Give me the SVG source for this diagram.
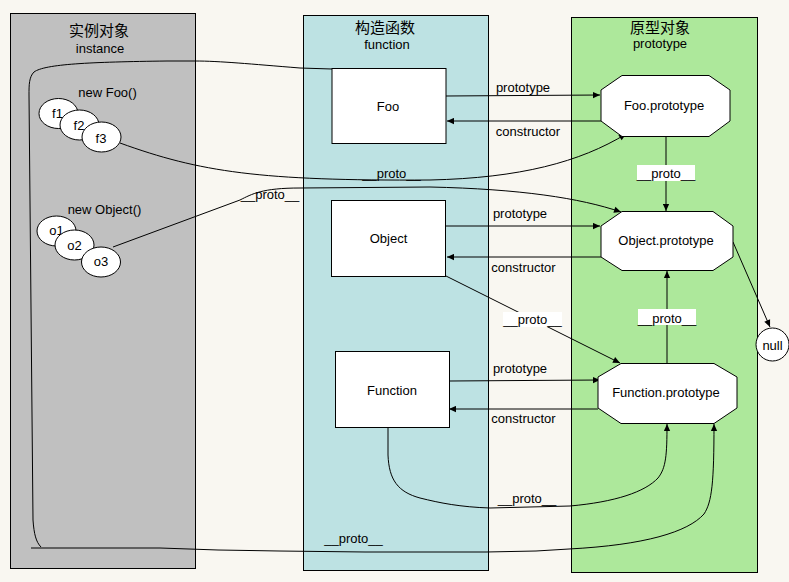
<svg xmlns="http://www.w3.org/2000/svg" width="789" height="582" viewBox="0 0 789 582">
<style>
text{font-family:"Liberation Sans",Arial,sans-serif;font-size:13px;fill:#000;text-anchor:middle}
.cjk{font-family:"Noto Sans CJK SC","Liberation Sans",sans-serif;font-size:15px}
.panel{stroke:#000;stroke-width:1}
.box{fill:#fff;stroke:#000;stroke-width:1}
.c{fill:none;stroke:#000;stroke-width:1}
.a{marker-end:url(#arr)}
.lb{fill:#fff;stroke:none}
</style>
<defs>
<marker id="arr" markerUnits="userSpaceOnUse" viewBox="0 0 10 10" refX="10" refY="5" markerWidth="8" markerHeight="7" orient="auto">
<path d="M0,0.5 L10,5 L0,9.5 z" fill="#000"/>
</marker>
</defs>
<rect width="789" height="582" fill="#f9f7f1"/>
<g id="panel-instance">
<rect class="panel" x="10.5" y="13.5" width="185" height="555" fill="#c0c0c0"/>
<text class="cjk" x="99" y="36">实例对象</text>
<text x="100" y="53">instance</text>
</g>
<g id="panel-function">
<rect class="panel" x="303.5" y="15.5" width="185" height="555" fill="#bde2e3"/>
<text class="cjk" x="385" y="33">构造函数</text>
<text x="387" y="49">function</text>
</g>
<g id="panel-prototype">
<rect class="panel" x="571.5" y="17.5" width="186" height="555" fill="#ade89b"/>
<text class="cjk" x="660" y="33">原型对象</text>
<text x="660" y="48">prototype</text>
</g>
<g id="connectors">
<path class="c a" d="M446,96 L600,95"/>
<path class="c a" d="M601,121 L447,121"/>
<path class="c a" d="M446,226 L600,226"/>
<path class="c a" d="M601,257 L447,257"/>
<path class="c a" d="M450,381 L600,380"/>
<path class="c a" d="M598,409 L449,409"/>
<path class="c a" d="M666,137 L666,211"/>
<path class="c a" d="M667,363 L667,271"/>
<path class="c a" d="M733,242 L770,327"/>
<path class="c a" d="M446,276 L620,363"/>
<path class="c a" d="M120,143 C200,172 260,181 430,180 C520,178 580,162 626,134"/>
<path class="c a" d="M113,247 L240,200 C252,194 262,188 300,188 L430,187 C520,189 580,198 621,212"/>
<path class="c a" d="M388,427 L388,455 C389,480 398,492 420,498 C440,503 460,507 490,508 L570,506 C615,502 645,492 658,478 C666,468 667,455 667,424"/>
<path class="c" d="M332,69 L300,68 C250,64 220,61 195,61 L167,61 C90,62 45,64 34,72 C29,77 29,85 29,95 L33,520 C34,534 36,542 41,547"/>
<path class="c a" d="M31,548 L160,548 L218,550 L279,551 L365,552 L486,552 L536,551 L569,549 C645,545 688,532 704,514 C712,502 714,482 714,424"/>
</g>
<g id="edge-labels">
<text x="523" y="92">prototype</text>
<text x="528" y="136">constructor</text>
<text x="520" y="217.5">prototype</text>
<text x="523.5" y="271.5">constructor</text>
<text x="520" y="372.5">prototype</text>
<text x="523.5" y="422.5">constructor</text>
<text x="391.5" y="177.5">__proto__</text>
<text x="270" y="199">__proto__</text>
<text x="527" y="503">__proto__</text>
<text x="353.5" y="542.5">__proto__</text>
<rect class="lb" x="637" y="165" width="58" height="16"/>
<text x="666" y="178">__proto__</text>
<rect class="lb" x="503" y="312" width="59" height="15"/>
<text x="532.5" y="324">__proto__</text>
<rect class="lb" x="638" y="309" width="58" height="16"/>
<text x="667" y="322.5">__proto__</text>
</g>
<g id="node-Foo">
<rect class="box" x="332" y="68.5" width="114" height="75"/>
<text x="388" y="110.5">Foo</text>
</g>
<g id="node-Object">
<rect class="box" x="331.5" y="200.5" width="114" height="76"/>
<text x="388.5" y="243">Object</text>
</g>
<g id="node-Function">
<rect class="box" x="335.5" y="351.5" width="114" height="76"/>
<text x="392" y="395">Function</text>
</g>
<g id="node-FooPrototype">
<polygon class="box" points="622,75.5 709,75.5 730,90 730,121 709,136.5 622,136.5 601,121 601,90"/>
<text x="664" y="109.5">Foo.prototype</text>
</g>
<g id="node-ObjectPrototype">
<polygon class="box" points="622,211.5 713,211.5 733,226 733,257 713,270.5 622,270.5 601,257 601,226"/>
<text x="666" y="244.5">Object.prototype</text>
</g>
<g id="node-FunctionPrototype">
<polygon class="box" points="621,363.5 714,363.5 737,377 737,408 714,423.5 621,423.5 598,408 598,377"/>
<text x="666" y="397">Function.prototype</text>
</g>
<g id="node-null">
<circle class="box" cx="772.5" cy="344.5" r="16.5"/>
<text x="772.5" y="350">null</text>
</g>
<g id="node-instances-foo">
<text x="107.5" y="97">new Foo()</text>
<ellipse class="box" cx="58.5" cy="113.5" rx="19.5" ry="15"/>
<text x="57.5" y="118">f1</text>
<ellipse class="box" cx="79.5" cy="125" rx="19.5" ry="15"/>
<text x="79" y="130">f2</text>
<ellipse class="box" cx="101.5" cy="137" rx="19.5" ry="15"/>
<text x="101" y="142.5">f3</text>
</g>
<g id="node-instances-object">
<text x="104.5" y="214">new Object()</text>
<ellipse class="box" cx="56.5" cy="231" rx="19.5" ry="15"/>
<text x="56.5" y="235">o1</text>
<ellipse class="box" cx="74.5" cy="245" rx="19.5" ry="15"/>
<text x="74.5" y="250">o2</text>
<ellipse class="box" cx="101" cy="262" rx="19.5" ry="15"/>
<text x="101" y="266">o3</text>
</g>
</svg>
